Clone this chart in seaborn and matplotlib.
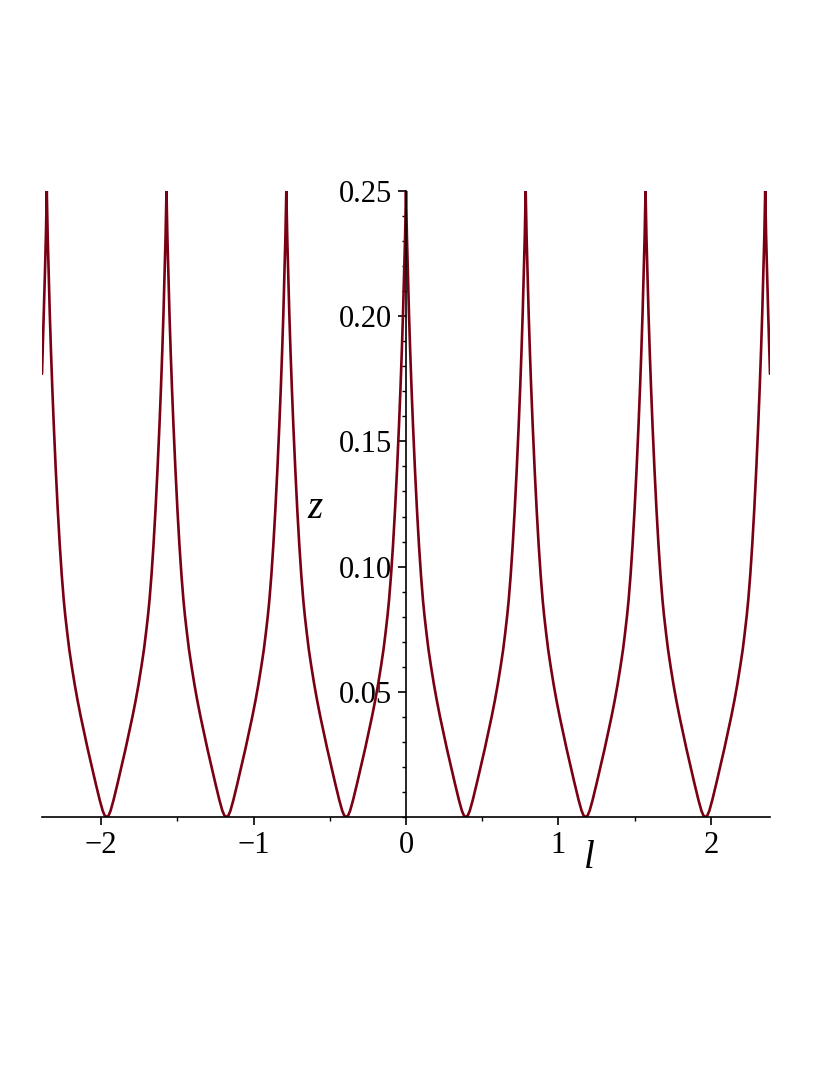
import numpy as np
import pandas as pd
import seaborn as sns
import matplotlib.pyplot as plt
import matplotlib.ticker as ticker

# cusp positions (z = 0.25)
peaks = [-2.356, -1.571, -0.785, 0.0, 0.785, 1.571, 2.356]

# one half arch: offset from a cusp -> z
half_offset = [0.0, 0.0059, 0.0118, 0.0196, 0.0275, 0.0360, 0.0458, 0.0589,
               0.0720, 0.0851, 0.0982, 0.1113, 0.1211, 0.1342, 0.1473, 0.1637,
               0.1833, 0.2016, 0.2226, 0.2455, 0.2684, 0.2946, 0.3208, 0.3470,
               0.3666, 0.3797, 0.3927]
half_z = [0.25, 0.232, 0.218, 0.201, 0.186, 0.1716, 0.1566, 0.1386,
          0.1226, 0.1086, 0.0966, 0.0866, 0.0805, 0.0735, 0.0670, 0.0603,
          0.0529, 0.0467, 0.0402, 0.0336, 0.0272, 0.0203, 0.0134, 0.0068,
          0.0025, 0.0006, 0.0]

# the curve stops just past the outer cusps
edge_offset = [0.0059, 0.0118, 0.0196, 0.0314]
edge_z = [0.232, 0.218, 0.201, 0.177]

xs, zs = [], []
xs += [peaks[0] - o for o in edge_offset[::-1]]
zs += edge_z[::-1]
for a, b in zip(peaks[:-1], peaks[1:]):
    xs += [a + o for o in half_offset]
    zs += half_z
    xs += [b - o for o in half_offset[::-1][1:]]
    zs += half_z[::-1][1:]
xs += [peaks[-1] + o for o in edge_offset]
zs += edge_z

df = pd.DataFrame({'l': xs, 'z': zs})

sns.set_style('white')
plt.rcParams['font.family'] = ['Liberation Serif', 'DejaVu Serif']
plt.rcParams['text.color'] = 'black'
plt.rcParams['axes.edgecolor'] = 'black'
plt.rcParams['xtick.color'] = 'black'
plt.rcParams['ytick.color'] = 'black'

fig = plt.figure(figsize=(8.3, 10.75), dpi=100)
ax = fig.add_axes([42 / 830, 1 - 817 / 1075, 728 / 830, 626 / 1075])

sns.lineplot(data=df, x='l', y='z', sort=False, estimator=None,
             color='#7a0014', lw=1.9, ax=ax)

ax.set_xlim(-2.3874, 2.3874)
ax.set_ylim(0, 0.25)

for s in ['top', 'right']:
    ax.spines[s].set_visible(False)
ax.spines['left'].set_position(('data', 0))
ax.spines['left'].set_linewidth(1.2)
ax.spines['bottom'].set_linewidth(1.2)

ax.xaxis.set_major_locator(ticker.FixedLocator([-2, -1, 0, 1, 2]))
ax.xaxis.set_minor_locator(ticker.MultipleLocator(0.5))
ax.yaxis.set_major_locator(ticker.FixedLocator([0.05, 0.10, 0.15, 0.20, 0.25]))
ax.yaxis.set_minor_locator(ticker.MultipleLocator(0.01))
ax.xaxis.set_major_formatter(ticker.FuncFormatter(lambda v, p: f'{v:.0f}'.replace('-', '\u2212')))
ax.yaxis.set_major_formatter(ticker.FuncFormatter(lambda v, p: f'{v:.2f}'))

ax.tick_params(axis='both', which='major', direction='out', length=6, width=1.2,
               labelsize=22, pad=4, labelcolor='black')
ax.tick_params(axis='both', which='minor', direction='out', length=3, width=1.0)
ax.tick_params(bottom=True, left=True, which='both')

ax.set_xlabel('')
ax.set_ylabel('')
ax.text(1.2, -0.0165, 'l', fontsize=28, style='italic', ha='center', va='center',
        clip_on=False)
ax.text(-0.6, 0.1234, 'z', fontsize=28, style='italic', ha='center', va='center')

fig.savefig('out.png', dpi=100)
